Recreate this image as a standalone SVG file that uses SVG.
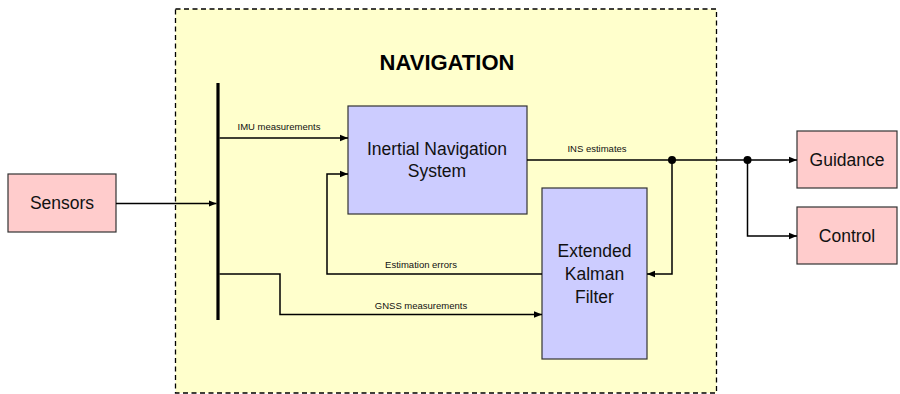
<svg xmlns="http://www.w3.org/2000/svg" width="900" height="394" viewBox="0 0 900 394">
  <defs>
    <marker id="arrow" viewBox="0 0 8 8" refX="8" refY="4" markerWidth="8" markerHeight="8" markerUnits="userSpaceOnUse" orient="auto">
      <path d="M0,0.8 L8,4 L0,7.2 Z" fill="#000"/>
    </marker>
    <style>
      .frame { fill: #ffffcc; stroke: #000; stroke-width: 1.3; stroke-dasharray: 5 3.5; }
      .ext { fill: #ffcccc; stroke: #333; stroke-width: 1.2; }
      .blk { fill: #ccccff; stroke: #333; stroke-width: 1.2; }
      .lbl { font-family: "Liberation Sans", Arial, sans-serif; font-size: 17.5px; fill: #111; text-anchor: middle; }
      .small { font-family: "Liberation Sans", Arial, sans-serif; font-size: 9.5px; fill: #111; text-anchor: middle; }
      .title { font-family: "Liberation Sans", Arial, sans-serif; font-size: 22px; font-weight: bold; fill: #000; text-anchor: middle; }
      .wire { fill: none; stroke: #000; stroke-width: 1.5; }
      .arr { marker-end: url(#arrow); }
    </style>
  </defs>

  <!-- navigation subsystem boundary -->
  <g id="navigation">
    <rect class="frame" x="175.5" y="9" width="541" height="384"/>
    <text class="title" x="447" y="70">NAVIGATION</text>
  </g>

  <g id="sensors">
    <rect class="ext" x="8" y="174" width="108" height="58"/>
    <text class="lbl" x="62" y="209">Sensors</text>
  </g>

  <g id="ins">
    <rect class="blk" x="348" y="106" width="179" height="108"/>
    <text class="lbl" x="437" y="155">Inertial Navigation</text>
    <text class="lbl" x="437" y="177">System</text>
  </g>

  <g id="ekf">
    <rect class="blk" x="542" y="188" width="105" height="171"/>
    <text class="lbl" x="594.5" y="257">Extended</text>
    <text class="lbl" x="594.5" y="280">Kalman</text>
    <text class="lbl" x="594.5" y="303">Filter</text>
  </g>

  <g id="guidance">
    <rect class="ext" x="797" y="131" width="100" height="57"/>
    <text class="lbl" x="847" y="166">Guidance</text>
  </g>

  <g id="control">
    <rect class="ext" x="797" y="207" width="100" height="57"/>
    <text class="lbl" x="847" y="242">Control</text>
  </g>

  <g id="connectors">
    <!-- measurement bus -->
    <line x1="218" y1="83" x2="218" y2="320" stroke="#000" stroke-width="3.2"/>

    <path class="wire arr" d="M116,203.5 H216.5"/>
    <path class="wire arr" d="M219.5,138 H348"/>
    <text class="small" x="279" y="130">IMU measurements</text>

    <path class="wire arr" d="M219.5,274 H280 V314.5 H542"/>
    <text class="small" x="421" y="309">GNSS measurements</text>

    <path class="wire arr" d="M542,274 H327 V174 H348"/>
    <text class="small" x="421" y="268">Estimation errors</text>

    <path class="wire arr" d="M527,160 H797"/>
    <text class="small" x="597" y="152">INS estimates</text>

    <path class="wire arr" d="M672,160 V274 H647"/>
    <path class="wire arr" d="M747.5,160 V236 H797"/>

    <circle cx="672" cy="160" r="4" fill="#000"/>
    <circle cx="747.5" cy="160" r="4" fill="#000"/>
  </g>
</svg>
